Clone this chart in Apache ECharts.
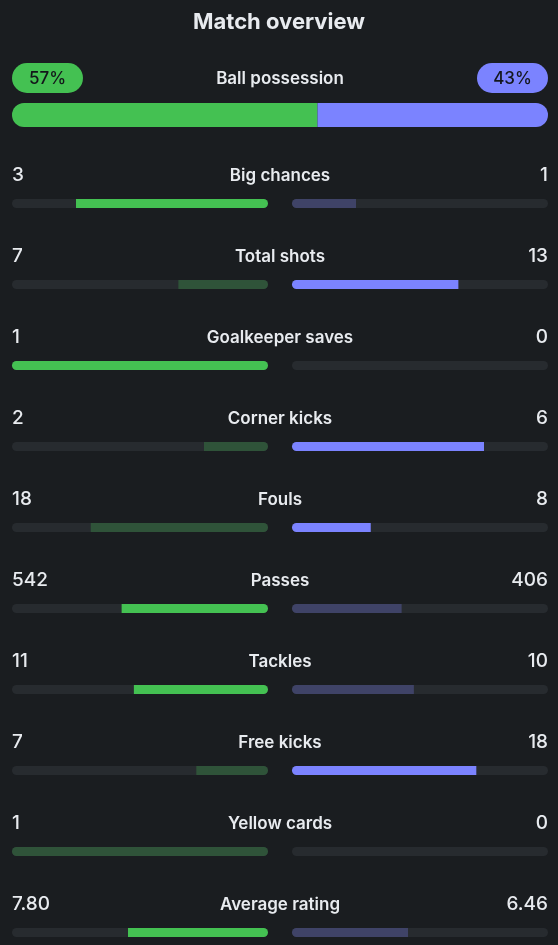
<!DOCTYPE html>
<html>
<head>
<meta charset="utf-8">
<script src="https://cdn.jsdelivr.net/npm/echarts@6/dist/echarts.min.js"></script>
<style>
  html, body { margin: 0; padding: 0; background: #1a1d20; }
  #main { width: 558px; height: 945px; }
</style>
</head>
<body>
<div id="main"></div>
<script>
var chartTitle = 'Match overview';
var possessionLabel = 'Ball possession';
var possessionHome = 57;
var possessionAway = 43;

var statNames = ['Big chances', 'Total shots', 'Goalkeeper saves', 'Corner kicks', 'Fouls',
                 'Passes', 'Tackles', 'Free kicks', 'Yellow cards', 'Average rating'];
var homeValues = [3, 7, 1, 2, 18, 542, 11, 7, 1, 7.80];
var awayValues = [1, 13, 0, 6, 8, 406, 10, 18, 0, 6.46];
var homeLabels = ['3', '7', '1', '2', '18', '542', '11', '7', '1', '7.80'];
var awayLabels = ['1', '13', '0', '6', '8', '406', '10', '18', '0', '6.46'];
// fewer is better for these
var lowerIsBetter = [false, false, false, false, true, false, false, false, true, false];

var BG = '#1a1d20';
var TRACK = '#272b2f';
var GREEN = '#44c152';
var GREEN_DIM = '#2f5339';
var BLUE = '#7b83ff';
var BLUE_DIM = '#3f4367';
var TEXT = '#e8ebef';
var FONT = 'Inter, "Noto Sans", sans-serif';

var myChart = echarts.init(document.getElementById('main'), null, { renderer: 'canvas' });

function ratio(a, b) {
  return (a + b) === 0 ? 0 : a / (a + b);
}

var homeFill = [], awayFill = [], trackData = [];
for (var i = 0; i < statNames.length; i++) {
  var h = homeValues[i], a = awayValues[i];
  var homeWins = lowerIsBetter[i] ? h < a : h > a;
  var awayWins = lowerIsBetter[i] ? a < h : a > h;
  var rh = ratio(h, a), ra = ratio(a, h);
  homeFill.push({
    value: rh,
    itemStyle: { color: homeWins ? GREEN : GREEN_DIM, borderRadius: rh >= 1 ? 4.5 : [0, 4.5, 4.5, 0] }
  });
  awayFill.push({
    value: ra,
    itemStyle: { color: awayWins ? BLUE : BLUE_DIM, borderRadius: ra >= 1 ? 4.5 : [4.5, 0, 0, 4.5] }
  });
  trackData.push(1);
}

var option = {
  backgroundColor: BG,
  animation: false,
  title: {
    text: chartTitle,
    left: 'center',
    top: 6,
    textStyle: { color: TEXT, fontSize: 22, fontWeight: 'bold', fontFamily: FONT }
  },
  grid: [
    { left: 12, width: 256, top: 203.5, height: 729 },
    { left: 292, width: 256, top: 203.5, height: 729 },
    { left: 12, width: 536, top: 103, height: 24 }
  ],
  xAxis: [
    { gridIndex: 0, type: 'value', min: 0, max: 1, inverse: true, show: false },
    { gridIndex: 1, type: 'value', min: 0, max: 1, show: false },
    { gridIndex: 2, type: 'value', min: 0, max: possessionHome + possessionAway, show: false }
  ],
  yAxis: [
    { gridIndex: 0, type: 'category', data: statNames, inverse: true, boundaryGap: false, show: false },
    { gridIndex: 1, type: 'category', data: statNames, inverse: true, boundaryGap: false, show: false },
    { gridIndex: 2, type: 'category', data: [possessionLabel], show: false }
  ],
  series: [
    { type: 'bar', xAxisIndex: 0, yAxisIndex: 0, barWidth: 9, silent: true,
      data: trackData, itemStyle: { color: TRACK, borderRadius: 4.5 } },
    { type: 'bar', xAxisIndex: 0, yAxisIndex: 0, barWidth: 9, barGap: '-100%', silent: true,
      data: homeFill },
    { type: 'bar', xAxisIndex: 1, yAxisIndex: 1, barWidth: 9, silent: true,
      data: trackData, itemStyle: { color: TRACK, borderRadius: 4.5 } },
    { type: 'bar', xAxisIndex: 1, yAxisIndex: 1, barWidth: 9, barGap: '-100%', silent: true,
      data: awayFill },
    { type: 'bar', xAxisIndex: 2, yAxisIndex: 2, barWidth: 24, stack: 'pos', silent: true,
      data: [possessionHome], itemStyle: { color: GREEN, borderRadius: [12, 0, 0, 12] } },
    { type: 'bar', xAxisIndex: 2, yAxisIndex: 2, barWidth: 24, stack: 'pos', silent: true,
      data: [possessionAway], itemStyle: { color: BLUE, borderRadius: [0, 12, 12, 0] } }
  ]
};

myChart.setOption(option);

// texts placed from the axes' own pixel positions
var graphics = [];
var leftEdge = myChart.convertToPixel({ gridIndex: 0 }, [1, 0])[0];
var midLeft = myChart.convertToPixel({ gridIndex: 0 }, [0, 0])[0];
var midRight = myChart.convertToPixel({ gridIndex: 1 }, [0, 0])[0];
var rightEdge = myChart.convertToPixel({ gridIndex: 1 }, [1, 0])[0];
var center = (midLeft + midRight) / 2;

for (var k = 0; k < statNames.length; k++) {
  var y = myChart.convertToPixel({ gridIndex: 0 }, [0, k])[1] - 28;
  graphics.push({ type: 'text', x: leftEdge, y: y, silent: true,
    style: { text: homeLabels[k], fill: TEXT, font: '500 19px ' + FONT, textAlign: 'left', textVerticalAlign: 'middle' } });
  graphics.push({ type: 'text', x: center, y: y, silent: true,
    style: { text: statNames[k], fill: TEXT, font: '600 17px ' + FONT, textAlign: 'center', textVerticalAlign: 'middle' } });
  graphics.push({ type: 'text', x: rightEdge, y: y, silent: true,
    style: { text: awayLabels[k], fill: TEXT, font: '500 19px ' + FONT, textAlign: 'right', textVerticalAlign: 'middle' } });
}

// possession row: pills and label
var posY = myChart.convertToPixel({ gridIndex: 2 }, [0, 0])[1] - 37;
var posLeft = myChart.convertToPixel({ gridIndex: 2 }, [0, 0])[0];
var posRight = myChart.convertToPixel({ gridIndex: 2 }, [possessionHome + possessionAway, 0])[0];
var pillW = 71, pillH = 30;
graphics.push({ type: 'rect', x: posLeft, y: posY - pillH / 2, silent: true,
  shape: { width: pillW, height: pillH, r: 15 }, style: { fill: GREEN } });
graphics.push({ type: 'text', x: posLeft + pillW / 2, y: posY + 1, silent: true,
  style: { text: possessionHome + '%', fill: '#13161a', font: '500 17px ' + FONT, textAlign: 'center', textVerticalAlign: 'middle' } });
graphics.push({ type: 'rect', x: posRight - pillW, y: posY - pillH / 2, silent: true,
  shape: { width: pillW, height: pillH, r: 15 }, style: { fill: BLUE } });
graphics.push({ type: 'text', x: posRight - pillW / 2, y: posY + 1, silent: true,
  style: { text: possessionAway + '%', fill: '#13161a', font: '500 17px ' + FONT, textAlign: 'center', textVerticalAlign: 'middle' } });
graphics.push({ type: 'text', x: center, y: posY + 1, silent: true,
  style: { text: possessionLabel, fill: TEXT, font: '600 17px ' + FONT, textAlign: 'center', textVerticalAlign: 'middle' } });

myChart.setOption({ graphic: graphics });
</script>
</body>
</html>
